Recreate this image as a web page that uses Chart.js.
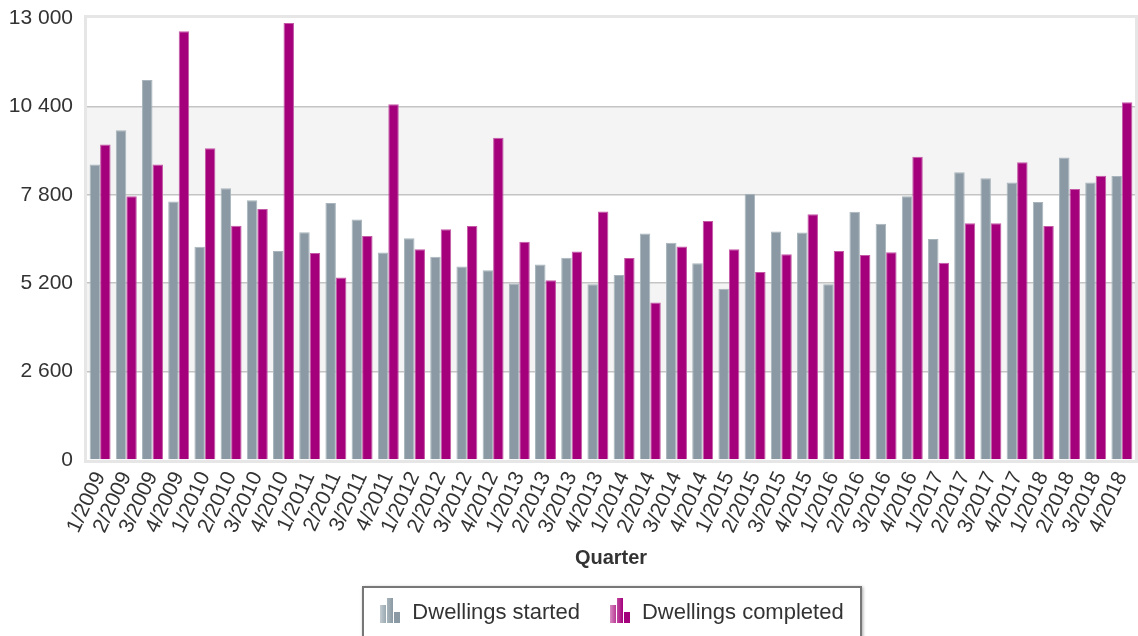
<!DOCTYPE html>
<html>
<head>
<meta charset="utf-8">
<script src="https://cdn.jsdelivr.net/npm/chart.js@4"></script>
<style>
    body { margin: 0; background: #fff; font-family: "Liberation Sans", Arial, sans-serif; }
    #wrap { position: relative; width: 1138px; height: 636px; }
    #legend {
        position: absolute; left: 362px; top: 586px; width: 500px; height: 56px;
        border: 2px solid #777; box-shadow: 1px 1px 3px rgba(0,0,0,0.35);
        display: flex; align-items: center; justify-content: center; gap: 30px;
        font-size: 22px; color: #333; background: #fff; box-sizing: border-box;
        padding-bottom: 6px;
    }
    .item { display: flex; align-items: flex-end; }
    .icon { display: flex; align-items: flex-end; gap: 1px; margin-right: 12px; height: 26px; padding-bottom: 2px; }
    .icon span { display: block; width: 6px; }
</style>
</head>
<body>
<div id="wrap">
    <canvas id="chart" width="1138" height="636"></canvas>
    <div id="legend">
        <div class="item">
            <div class="icon">
                <span style="height:18px;background:linear-gradient(90deg,#c3ccd1,#9aa8b0)"></span>
                <span style="height:25px;background:linear-gradient(90deg,#a9b5bc,#8a99a3)"></span>
                <span style="height:11px;background:#8a99a3"></span>
            </div>
            Dwellings started
        </div>
        <div class="item">
            <div class="icon">
                <span style="height:18px;background:linear-gradient(90deg,#d98cc3,#b83a94)"></span>
                <span style="height:25px;background:linear-gradient(90deg,#c04a9f,#a4007c)"></span>
                <span style="height:11px;background:#a4007c"></span>
            </div>
            Dwellings completed
        </div>
    </div>
</div>
<script>
    // Quarters 1/2009 .. 4/2018
    const quarters = [
        '1/2009', '2/2009', '3/2009', '4/2009', '1/2010', '2/2010', '3/2010', '4/2010',
        '1/2011', '2/2011', '3/2011', '4/2011', '1/2012', '2/2012', '3/2012', '4/2012',
        '1/2013', '2/2013', '3/2013', '4/2013', '1/2014', '2/2014', '3/2014', '4/2014',
        '1/2015', '2/2015', '3/2015', '4/2015', '1/2016', '2/2016', '3/2016', '4/2016',
        '1/2017', '2/2017', '3/2017', '4/2017', '1/2018', '2/2018', '3/2018', '4/2018'
    ];
    const started = [
        8690, 9700, 11180, 7600, 6270, 7990, 7640, 6150,
        6700, 7560, 7070, 6100, 6520, 5980, 5690, 5580,
        5190, 5750, 5950, 5170, 5440, 6660, 6390, 5790,
        5040, 7830, 6720, 6690, 5170, 7300, 6950, 7760,
        6500, 8460, 8290, 8160, 7590, 8900, 8160, 8350
    ];
    const completed = [
        9280, 7760, 8690, 12610, 9170, 6890, 7380, 12850,
        6090, 5370, 6590, 10460, 6200, 6790, 6880, 9480,
        6420, 5290, 6130, 7310, 5940, 4630, 6280, 7030,
        6200, 5530, 6050, 7230, 6150, 6030, 6110, 8920,
        5800, 6960, 6960, 8760, 6880, 7970, 8360, 10520
    ];
    const yTicks = [0, 2600, 5200, 7800, 10400, 13000];
    const bands = [[2600, 5200], [7800, 10400]];

    function fmt(v) {
        return String(v).replace(/\B(?=(\d{3})+(?!\d))/g, ' ');
    }

    // alternating bands + light frame round the plot
    const plotFrame = {
        id: 'plotFrame',
        beforeDraw(chart) {
            const { ctx, chartArea: a, scales: { y } } = chart;
            ctx.save();
            ctx.fillStyle = '#f4f4f4';
            bands.forEach(function (b) {
                const top = y.getPixelForValue(b[1]);
                const bot = y.getPixelForValue(b[0]);
                ctx.fillRect(a.left, top, a.right - a.left, bot - top);
            });
            ctx.strokeStyle = '#e6e6e6';
            ctx.lineWidth = 3;
            ctx.strokeRect(a.left - 1.5, a.top - 1.5, a.right - a.left + 3, a.bottom - a.top + 3);
            ctx.restore();
        }
    };

    new Chart(document.getElementById('chart'), {
        type: 'bar',
        data: {
            labels: quarters,
            datasets: [
                {
                    label: 'Dwellings started',
                    data: started,
                    backgroundColor: '#8a99a3',
                    borderColor: '#a9b5bc',
                    borderWidth: 1,
                    categoryPercentage: 0.8,
                    barPercentage: 1
                },
                {
                    label: 'Dwellings completed',
                    data: completed,
                    backgroundColor: '#a4007c',
                    borderColor: '#c45aa6',
                    borderWidth: 1,
                    categoryPercentage: 0.8,
                    barPercentage: 1
                }
            ]
        },
        options: {
            responsive: false,
            animation: false,
            devicePixelRatio: 1,
            layout: { padding: { top: 18, right: 3, left: 0, bottom: 66 } },
            plugins: {
                legend: { display: false },
                tooltip: { enabled: false }
            },
            scales: {
                x: {
                    grid: { display: false },
                    border: { display: false },
                    ticks: {
                        autoSkip: false,
                        minRotation: 65,
                        maxRotation: 65,
                        padding: 0,
                        color: '#333',
                        font: { family: 'Liberation Sans', size: 21 }
                    },
                    title: {
                        display: true,
                        text: 'Quarter',
                        color: '#333',
                        padding: { top: 4, bottom: 0 },
                        font: { family: 'Liberation Sans', size: 20, weight: 'bold' }
                    },
                    afterFit: function (scale) {
                        scale.height = 110;
                        scale.paddingLeft = 0;
                        scale.paddingRight = 0;
                    }
                },
                y: {
                    min: 0,
                    max: 13000,
                    afterBuildTicks: function (scale) {
                        scale.ticks = yTicks.map(function (v) { return { value: v }; });
                    },
                    grid: {
                        drawTicks: false,
                        lineWidth: 1.5,
                        color: function (c) {
                            const v = c.tick ? c.tick.value : 0;
                            return (v === 0 || v === 13000) ? 'rgba(0,0,0,0)' : '#c4c4c4';
                        }
                    },
                    border: { display: false },
                    ticks: {
                        padding: 14,
                        color: '#333',
                        font: { family: 'Liberation Sans', size: 21 },
                        callback: function (v) { return fmt(v); }
                    },
                    afterFit: function (scale) {
                        scale.width = 87;
                        scale.paddingTop = 0;
                        scale.paddingBottom = 0;
                    }
                }
            }
        },
        plugins: [plotFrame]
    });
</script>
</body>
</html>
